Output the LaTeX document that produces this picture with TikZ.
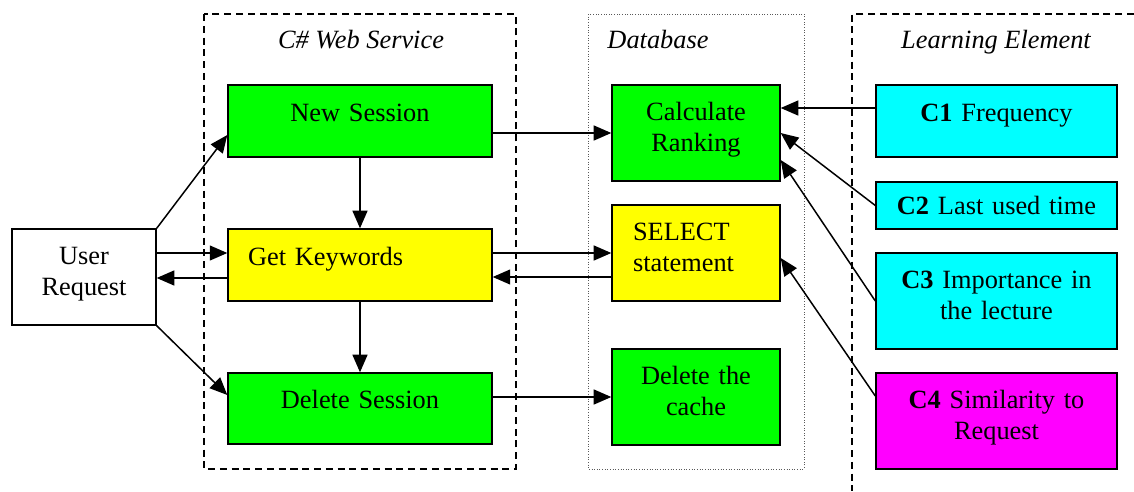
\documentclass[tikz,border=0pt]{standalone}
\usepackage{fontspec}
\setmainfont{Liberation Serif}
\usetikzlibrary{arrows.meta}
\definecolor{bgreen}{rgb}{0.0,1.0,0.0}
\definecolor{byellow}{rgb}{1.0,1.0,0.0}
\definecolor{bcyan}{rgb}{0.0,1.0,1.0}
\definecolor{bmagenta}{rgb}{1.0,0.0,1.0}
\newcommand{\fs}{\fontsize{15}{17.1}\selectfont}
\tikzset{
  blk/.style={draw, line width=0.8pt, inner xsep=0pt, inner ysep=0pt,
              align=center, font=\fs},
  oneln/.style={text height=5pt, text depth=5pt},
  twoln/.style={text height=5pt, text depth=18.7pt},
  lowln/.style={text height=13pt, text depth=2.2pt},
  grp/.style={line width=0.9pt, dash pattern=on 4pt off 2.7pt},
  lnk/.style={line width=0.85pt, -{Triangle[length=10pt,width=8.5pt]}},
  ttl/.style={font=\fs\itshape, anchor=base}
}

\begin{document}
\begin{tikzpicture}[x=0.02cm, y=-0.02cm]
\useasboundingbox (0,0) rectangle (1134,491);

% frames
\draw[grp] (204,14) rectangle (516,469);
\draw[gray!70!black, line width=0.5pt, densely dotted] (588,14) rectangle (804,469);
\draw[grp] (1134,14) -- (852,14) -- (852,491);

\node[ttl] (wst) at (361,48) {C\# Web Service};
\node[ttl] (dbt) at (658,48) {Database};
\node[ttl] (let) at (996,48) {Learning Element};

% user
\node[blk, twoln, fill=white, text width=2.88cm, minimum height=1.92cm] (ur) at (84,277) {User\\Request};

% web service
\node[blk, oneln, fill=bgreen, text width=5.28cm, minimum height=1.44cm] (ns) at (360,121) {New Session};
\node[blk, oneln, fill=byellow, align=left, inner xsep=0.4cm, text width=4.48cm, minimum height=1.44cm] (gk) at (360,265) {Get Keywords};
\node[blk, oneln, fill=bgreen, text width=5.28cm, minimum height=1.42cm] (ds) at (360,408.5) {Delete Session};

% database
\node[blk, twoln, fill=bgreen, text width=3.36cm, minimum height=1.92cm] (cr) at (696,133) {Calculate\\Ranking};
\node[blk, twoln, fill=byellow, align=left, inner xsep=0.42cm, text width=2.52cm, minimum height=1.92cm] (sel) at (696,253) {SELECT\\statement};
\node[blk, twoln, fill=bgreen, text width=3.36cm, minimum height=1.92cm] (dc) at (696,397) {Delete the\\cache};

% learning element
\node[blk, oneln, fill=bcyan, text width=4.82cm, minimum height=1.44cm] (c1) at (996.5,121) {\textbf{C1} Frequency};
\node[blk, lowln, fill=bcyan, text width=4.82cm, minimum height=0.94cm] (c2) at (996.5,205.5) {\textbf{C2} Last used time};
\node[blk, twoln, fill=bcyan, text width=4.82cm, minimum height=1.92cm] (c3) at (996.5,301) {\textbf{C3} Importance in\\the lecture};
\node[blk, twoln, fill=bmagenta, text width=4.82cm, minimum height=1.92cm] (c4) at (996.5,421) {\textbf{C4} Similarity to\\Request};

% requests
\draw[lnk] (ur.north east) -- ([yshift=-0.28cm]ns.west);
\draw[lnk] ([yshift=0.48cm]ur.east) -- ([yshift=0.48cm]ur.east -| gk.west);
\draw[lnk] ([yshift=-0.26cm]gk.west) -- ([yshift=-0.26cm]gk.west -| ur.east);
\draw[lnk] (ur.south east) -- ([yshift=0.27cm]ds.west);
\draw[lnk] (ns) -- (gk);
\draw[lnk] (gk) -- (ds);

% queries
\draw[lnk] (cr.west -| ns.east) -- (cr.west);
\draw[lnk] (sel.west -| gk.east) -- (sel.west);
\draw[lnk] ([yshift=-0.48cm]sel.west) -- ([yshift=-0.48cm]sel.west -| gk.east);
\draw[lnk] (dc.west -| ds.east) -- (dc.west);

% criteria
\draw[lnk] ([yshift=0.26cm]c1.west) -- ([yshift=0.26cm]c1.west -| cr.east);
\draw[lnk] (c2.west) -- (cr.east);
\draw[lnk] (c3.west) -- ([yshift=-0.54cm]cr.east);
\draw[lnk] ([yshift=0.5cm]c4.west) -- ([yshift=-0.1cm]sel.east);
\end{tikzpicture}
\end{document}
